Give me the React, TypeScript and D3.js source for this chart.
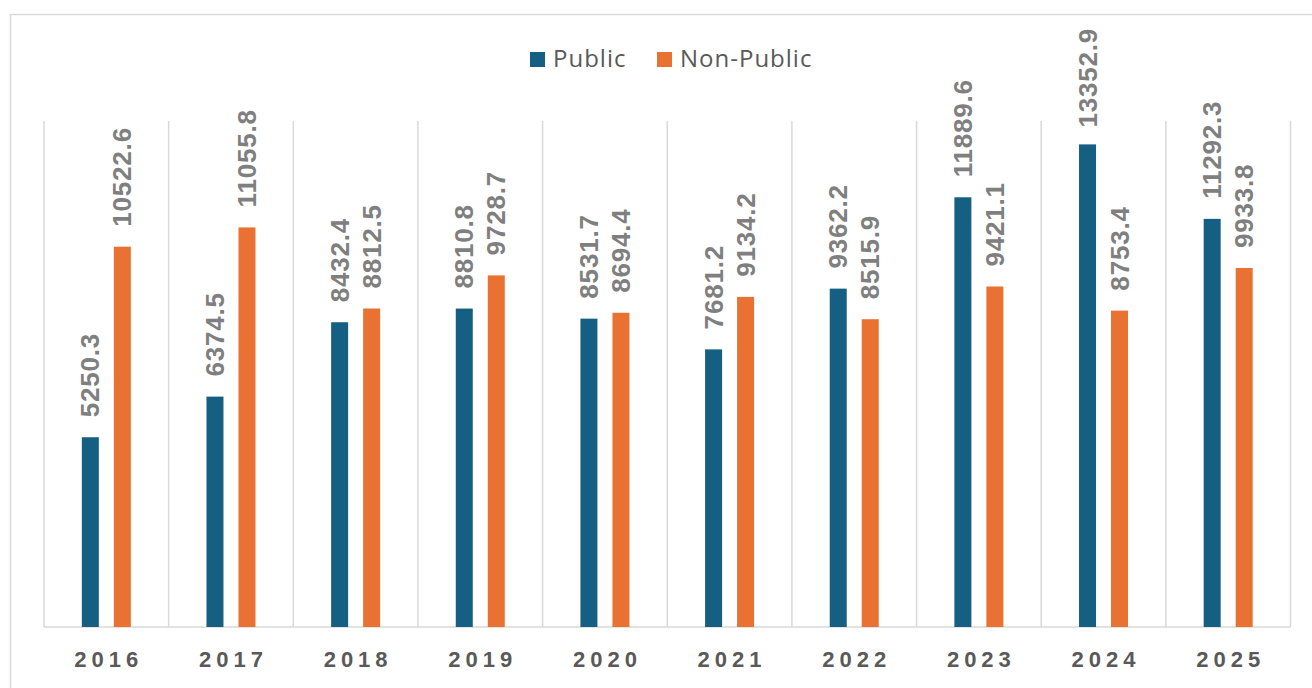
import { useEffect, useRef } from "react";
import * as d3 from "d3";

const years = ["2016", "2017", "2018", "2019", "2020", "2021", "2022", "2023", "2024", "2025"];
const publicValues = [5250.3, 6374.5, 8432.4, 8810.8, 8531.7, 7681.2, 9362.2, 11889.6, 13352.9, 11292.3];
const nonPublicValues = [10522.6, 11055.8, 8812.5, 9728.7, 8694.4, 9134.2, 8515.9, 9421.1, 8753.4, 9933.8];
const seriesNames = ["Public", "Non-Public"];
const seriesColors = ["#156082", "#E97132"];

const W = 1312;
const H = 688;

export default function App() {
  const svgRef = useRef<SVGSVGElement>(null);

  useEffect(() => {
    const svg = d3.select(svgRef.current);
    svg.selectAll("*").remove();

    const plot = { left: 44, right: 1290.5, top: 121, bottom: 627 };
    const grid = "#d9d9d9";

    // outer frame (only top & left edges visible)
    svg
      .append("path")
      .attr("d", `M10.5,${H + 5}V14.5H${W + 5}`)
      .attr("fill", "none")
      .attr("stroke", grid)
      .attr("stroke-width", 1.5);

    const x0 = d3.scaleBand<string>().domain(years).range([plot.left, plot.right]).padding(0);
    const groupW = 49;
    const x1 = d3
      .scaleBand<string>()
      .domain(seriesNames)
      .range([(x0.bandwidth() - groupW) / 2, (x0.bandwidth() + groupW) / 2])
      .paddingInner(15 / 32);
    const y = d3.scaleLinear().domain([0, 14000]).range([plot.bottom, plot.top]);

    // vertical category separators
    const seps = years.map((yr) => x0(yr)!).concat([plot.right]);
    svg
      .append("g")
      .selectAll("line")
      .data(seps)
      .join("line")
      .attr("x1", (d) => d)
      .attr("x2", (d) => d)
      .attr("y1", plot.top)
      .attr("y2", plot.bottom)
      .attr("stroke", grid)
      .attr("stroke-width", 1.5);

    // baseline
    svg
      .append("line")
      .attr("x1", plot.left)
      .attr("x2", plot.right)
      .attr("y1", plot.bottom)
      .attr("y2", plot.bottom)
      .attr("stroke", grid)
      .attr("stroke-width", 1.5);

    const rows = years.map((yr, i) => ({
      year: yr,
      vals: [publicValues[i], nonPublicValues[i]],
    }));

    const groups = svg
      .append("g")
      .selectAll("g")
      .data(rows)
      .join("g")
      .attr("transform", (d) => `translate(${x0(d.year)},0)`);

    groups
      .selectAll("rect")
      .data((d) => d.vals.map((v, j) => ({ v, s: seriesNames[j], c: seriesColors[j] })))
      .join("rect")
      .attr("x", (d) => x1(d.s)!)
      .attr("y", (d) => y(d.v))
      .attr("width", x1.bandwidth())
      .attr("height", (d) => y(0) - y(d.v))
      .attr("fill", (d) => d.c);

    const labels = groups
      .selectAll("text")
      .data((d) => d.vals.map((v, j) => ({ v, s: seriesNames[j] })))
      .join("text")
      .attr("dominant-baseline", "central")
      .attr("text-anchor", "end")
      .attr("font-family", "Liberation Sans, Arial, sans-serif")
      .attr("font-weight", "bold")
      .attr("font-size", 26)
      .attr("letter-spacing", 0.8)
      .attr("fill", "#7f7f7f")
      .text((d) => d.v.toFixed(1));

    // place labels above bars, kept inside the chart's top edge
    labels.each(function (d) {
      const el = this as SVGTextElement;
      const len = el.getComputedTextLength();
      const cx = x1(d.s)! + x1.bandwidth() / 2;
      let top = y(d.v) - 20 - len;
      if (top < 28) top = 28;
      d3.select(el).attr("transform", `translate(${cx},${top}) rotate(-90)`);
    });

    // x axis labels
    svg
      .append("g")
      .selectAll("text")
      .data(years)
      .join("text")
      .attr("x", (d) => x0(d)! + x0.bandwidth() / 2 + 2.5)
      .attr("y", 667)
      .attr("text-anchor", "middle")
      .attr("font-family", "Liberation Sans, Arial, sans-serif")
      .attr("font-weight", "bold")
      .attr("font-size", 22)
      .attr("letter-spacing", 5)
      .attr("fill", "#595959")
      .text((d) => d);

    // legend
    const legend = svg.append("g");
    const items = [
      { name: seriesNames[0], color: seriesColors[0], x: 530 },
      { name: seriesNames[1], color: seriesColors[1], x: 657 },
    ];
    items.forEach((it) => {
      legend
        .append("rect")
        .attr("x", it.x)
        .attr("y", 52)
        .attr("width", 15)
        .attr("height", 15)
        .attr("fill", it.color);
      legend
        .append("text")
        .attr("x", it.x + 23)
        .attr("y", 67)
        .attr("font-family", "Open Sans, sans-serif")
        .attr("font-size", 24)
        .attr("letter-spacing", 1)
        .attr("fill", "#595959")
        .text(it.name);
    });
  }, []);

  return (
    <svg
      ref={svgRef}
      width={W}
      height={H}
      style={{ position: "absolute", left: 0, top: 0, background: "#fff" }}
    />
  );
}
